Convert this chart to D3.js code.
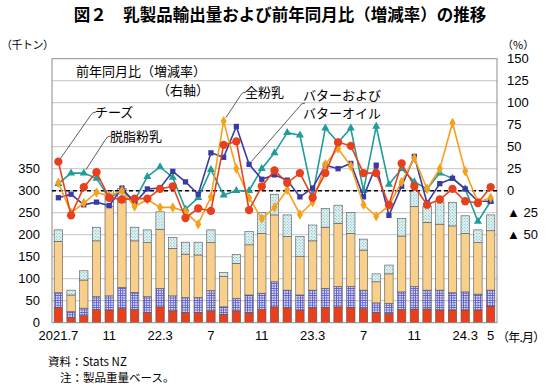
<!DOCTYPE html>
<html>
<head>
<meta charset="utf-8">
<script src="https://cdn.jsdelivr.net/npm/d3@7"></script>
<style>
  body { margin: 0; background: #fff; }
  svg { display: block; }
  .num { font-family: "Liberation Sans", Arial, sans-serif; font-size: 13px; fill: #000; }
  .jp { font-family: "Noto Sans CJK JP", sans-serif; fill: #000; }
</style>
</head>
<body>
<svg id="chart" width="550" height="391"></svg>
<script>
//Month index 0 = 2021.7 ... 34 = 2024.5
var months = d3.range(35);
var tickIdx = [0, 4, 8, 12, 16, 20, 24, 28, 32, 34];
var tickText = ["2021.7", "11", "22.3", "7", "11", "23.3", "7", "11", "24.3", "5"];

//Export volume (thousand tonnes), stacked bottom to top
var cheeseVol = [35,12,16,30,29,32,30,23,36,27,23,23,27,19,27,23,30,36,34,29,34,34,36,35,32,23,21,30,31,31,29,29,29,29,38];
var butterVol = [33,13,17,29,32,48,39,36,42,34,34,34,46,17,28,40,37,57,40,34,40,44,46,47,42,22,23,40,51,43,45,39,41,36,36];
var wmpVol    = [117,38,64,127,203,194,117,123,134,108,99,97,109,69,80,114,136,152,122,87,112,139,144,121,91,48,67,127,182,154,150,152,133,117,135];
var smpVol    = [26,11,21,31,36,31,31,29,40,25,27,29,29,9,20,30,47,47,49,46,36,43,41,47,25,18,20,40,36,36,51,53,40,29,36];

//Year on year change (%), right axis
var cheeseYoY = [33,-28,4,21,-8,-10,-9,-9,2,5,-31,-20,-23,52,56,-22,5,23,9,20,-8,20,55,51,20,20,-16,31,5,-16,-10,2,-12,-14,4];
var smpYoY    = [8,20,20,14,-8,0,-11,16,27,15,-21,-8,24,-5,0,0,25,43,66,63,-5,71,55,71,0,73,7,25,10,2,20,14,2,-35,-12];
var wmpYoY    = [9,-25,-14,-2,-6,0,-18,-10,-19,-19,-24,-38,-7,79,25,-8,-32,-19,1,-27,-13,30,48,28,-16,-29,-17,10,37,2,25,77,22,-13,-8];
var butterYoY = [-8,-4,-16,-13,-17,3,-14,2,3,22,10,-4,43,38,73,30,13,18,12,-7,3,29,25,31,-7,29,-28,5,39,-14,8,14,2,-12,-12];

var leftTicks = [0, 50, 100, 150, 200, 250, 300, 350];
var rightTicks = [150, 125, 100, 75, 50, 25, 0, -25, -50];

var plotL = 52, plotR = 497, plotT = 58.7, plotB = 322.7;

var svg = d3.select("#chart");
var defs = svg.append("defs");

//checkered pattern for butter
var pb = defs.append("pattern").attr("id", "pButter")
    .attr("patternUnits", "userSpaceOnUse").attr("width", 2.4).attr("height", 2.4);
pb.append("rect").attr("width", 2.4).attr("height", 2.4).attr("fill", "#dcdcf6");
pb.append("path").attr("d", "M0,0.4H2.4M0.4,0V2.4").attr("stroke", "#5858cc").attr("stroke-width", 0.8);

//dotted pattern for skim milk powder
var ps = defs.append("pattern").attr("id", "pSmp")
    .attr("patternUnits", "userSpaceOnUse").attr("width", 3).attr("height", 3);
ps.append("rect").attr("width", 3).attr("height", 3).attr("fill", "#e4f5f5");
ps.append("circle").attr("cx", 0.8).attr("cy", 0.8).attr("r", 0.55).attr("fill", "#5fa8b0");
ps.append("circle").attr("cx", 2.3).attr("cy", 2.3).attr("r", 0.55).attr("fill", "#5fa8b0");

//Scales
var x = d3.scaleBand().domain(months).range([plotL, plotR])
    .paddingInner(0.34).paddingOuter(0.17);
var yL = d3.scaleLinear().domain([0, 600]).range([plotB, plotT]);
var yR = d3.scaleLinear().domain([-150, 150]).range([plotB, plotT]);
function cx(i) { return x(i) + x.bandwidth() / 2; }

//Gridlines
svg.append("g")
  .selectAll("line")
  .data(d3.range(50, 600, 50))
  .enter().append("line")
    .attr("x1", plotL).attr("x2", plotR)
    .attr("y1", function(d) { return yL(d); })
    .attr("y2", function(d) { return yL(d); })
    .attr("stroke", "#b4b4b4").attr("stroke-width", 0.8);

//Stacked bars
var stackData = months.map(function(i) {
  return {i: i, cheese: cheeseVol[i], butter: butterVol[i], wmp: wmpVol[i], smp: smpVol[i]};
});
var keys = ["cheese", "butter", "wmp", "smp"];
var fills = {cheese: "#e8401c", butter: "url(#pButter)", wmp: "#f9cf8c", smp: "url(#pSmp)"};
var series = d3.stack().keys(keys)(stackData);

svg.append("g").selectAll("g")
  .data(series)
  .enter().append("g")
    .attr("fill", function(d) { return fills[d.key]; })
  .selectAll("rect")
  .data(function(d) { return d; })
  .enter().append("rect")
    .attr("x", function(d) { return x(d.data.i); })
    .attr("width", x.bandwidth())
    .attr("y", function(d) { return yL(d[1]); })
    .attr("height", function(d) { return yL(d[0]) - yL(d[1]); })
    .attr("stroke", "#555")
    .attr("stroke-width", 0.6);

//Frame
svg.append("rect")
    .attr("x", plotL).attr("y", plotT)
    .attr("width", plotR - plotL).attr("height", plotB - plotT)
    .attr("fill", "none").attr("stroke", "#8c8c8c").attr("stroke-width", 1);

//Zero line of right axis
svg.append("line")
    .attr("x1", plotL).attr("x2", plotR)
    .attr("y1", yR(0)).attr("y2", yR(0))
    .attr("stroke", "#000").attr("stroke-width", 1.6)
    .attr("stroke-dasharray", "4,3");

//Lines with markers
var line = d3.line()
    .x(function(d, i) { return cx(i); })
    .y(function(d) { return yR(d); });

var lineSets = [
  {vals: smpYoY, color: "#1f9d9a", sym: d3.symbolTriangle, size: 28},
  {vals: butterYoY, color: "#3a3aa6", sym: d3.symbolSquare, size: 28},
  {vals: wmpYoY, color: "#f5a11c", sym: d3.symbolDiamond, size: 32},
  {vals: cheeseYoY, color: "#e8401c", sym: d3.symbolCircle, size: 54}
];

lineSets.forEach(function(s) {
  svg.append("path")
      .datum(s.vals)
      .attr("fill", "none")
      .attr("stroke", s.color)
      .attr("stroke-width", 1.6)
      .attr("d", line);
  svg.append("g").selectAll("path")
    .data(s.vals)
    .enter().append("path")
      .attr("transform", function(d, i) { return "translate(" + cx(i) + "," + yR(d) + ")"; })
      .attr("d", d3.symbol().type(s.sym).size(s.size))
      .attr("fill", s.color);
});

//Left axis
var axL = svg.append("g")
    .attr("transform", "translate(" + (plotL - 12) + ",0)")
    .call(d3.axisLeft(yL).tickValues(leftTicks).tickSize(0).tickPadding(0));
axL.select(".domain").remove();
axL.selectAll("text").attr("class", "num").attr("font-family", null).attr("font-size", null);

//Right axis
var axR = svg.append("g")
    .attr("transform", "translate(" + (plotR + 10) + ",0)")
    .call(d3.axisRight(yR).tickValues(rightTicks).tickSize(0).tickPadding(0)
      .tickFormat(function(d) { return d < 0 ? "\u25B2 " + (-d) : d; }));
axR.select(".domain").remove();
axR.selectAll("text").attr("class", "num").attr("font-family", null).attr("font-size", null);

//Bottom axis
var axB = svg.append("g")
    .attr("transform", "translate(0," + (plotB + 8) + ")")
    .call(d3.axisBottom(x).tickValues(tickIdx).tickSize(0).tickPadding(0)
      .tickFormat(function(d) { return tickText[tickIdx.indexOf(d)]; }));
axB.select(".domain").remove();
axB.selectAll("text").attr("class", "num").attr("font-family", null).attr("font-size", null);

svg.append("text").attr("class", "jp")
    .attr("x", 497).attr("y", 342)
    .style("font-size", "12px")
    .style("letter-spacing", "-0.8px")
    .text("（年.月）");

//Title and unit labels
svg.append("text").attr("class", "jp")
    .attr("x", 280).attr("y", 21)
    .attr("text-anchor", "middle")
    .style("font-size", "16.5px").style("font-weight", "bold")
    .text("図２　乳製品輸出量および前年同月比（増減率）の推移");

svg.append("text").attr("class", "jp")
    .attr("x", 1).attr("y", 49)
    .style("font-size", "11px")
    .style("letter-spacing", "-0.5px")
    .text("（千トン）");

svg.append("text").attr("class", "jp")
    .attr("x", 502).attr("y", 49)
    .style("font-size", "11px")
    .text("（%）");

//Annotation labels
var notes = [
  {t: "前年同月比（増減率）", x: 76, y: 76},
  {t: "（右軸）", x: 157, y: 95},
  {t: "チーズ", x: 95, y: 117},
  {t: "脱脂粉乳", x: 110, y: 141},
  {t: "全粉乳", x: 245, y: 97},
  {t: "バターおよび", x: 303, y: 100},
  {t: "バターオイル", x: 303, y: 118}
];
svg.append("g").selectAll("text")
  .data(notes)
  .enter().append("text")
    .attr("class", "jp")
    .attr("x", function(d) { return d.x; })
    .attr("y", function(d) { return d.y; })
    .style("font-size", "13px")
    .text(function(d) { return d.t; });

//Leader lines: from label to the marked point
var leaders = [
  {x0: 92, y0: 112, vals: cheeseYoY, i: 0},
  {x0: 107, y0: 136, vals: smpYoY, i: 2},
  {x0: 242, y0: 92, vals: wmpYoY, i: 13},
  {x0: 301, y0: 103, vals: butterYoY, i: 15}
];
svg.append("g").selectAll("path")
  .data(leaders)
  .enter().append("path")
    .attr("d", function(d) {
      var px = cx(d.i), py = yR(d.vals[d.i]);
      var dx = px - d.x0, dy = py - d.y0, len = Math.sqrt(dx * dx + dy * dy);
      var ex = px - dx / len * 4, ey = py - dy / len * 4;
      return "M" + (d.x0 + 4) + "," + d.y0 + "Q" + d.x0 + "," + d.y0 + " " + (d.x0 - 1.5) + "," + (d.y0 + 3.5)
        + "L" + ex + "," + ey;
    })
    .attr("fill", "none")
    .attr("stroke", "#333")
    .attr("stroke-width", 0.8);

//Source notes
svg.append("text").attr("class", "jp")
    .attr("x", 48).attr("y", 366)
    .style("font-size", "11.5px")
    .text("資料：Stats NZ");
svg.append("text").attr("class", "jp")
    .attr("x", 60).attr("y", 382)
    .style("font-size", "11.5px")
    .text("注：製品重量ベース。");
</script>
</body>
</html>
